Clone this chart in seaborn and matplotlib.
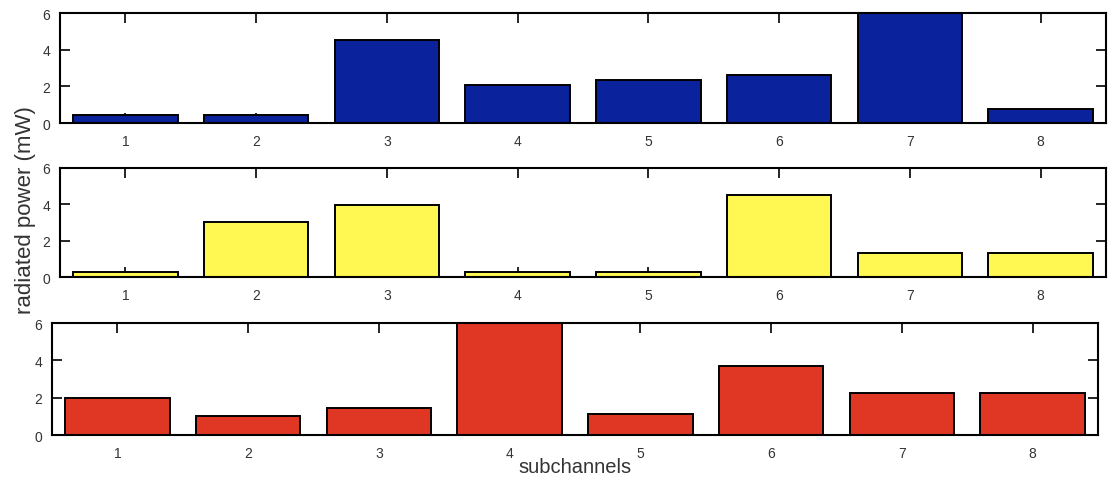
import matplotlib
matplotlib.use("Agg")
import matplotlib.pyplot as plt
import seaborn as sns
import pandas as pd

# radiated power per subchannel (mW) for three users
subchannels = ["1", "2", "3", "4", "5", "6", "7", "8"]
power_user1 = [0.45, 0.45, 4.53, 2.05, 2.36, 2.64, 6.3, 0.75]
power_user2 = [0.30, 3.05, 3.95, 0.30, 0.30, 4.50, 1.32, 1.32]
power_user3 = [2.00, 1.00, 1.43, 6.3, 1.13, 3.68, 2.25, 2.25]
y_ticks = [0, 2, 4, 6]

colors = ["#0a229c", "#fff852", "#e03724"]

sns.set_theme(style="white")
plt.rcParams["font.family"] = ["Liberation Sans", "DejaVu Sans"]

W, H = 1111, 481
fig = plt.figure(figsize=(W / 100, H / 100), dpi=100)

# axes boxes in pixels: left, top, right, bottom
boxes = [(60, 14, 1106, 124), (60, 169, 1106, 278), (52, 324, 1098, 436)]
series = [power_user1, power_user2, power_user3]

for (l, t, r, b), vals, col in zip(boxes, series, colors):
    ax = fig.add_axes([l / W, 1 - b / H, (r - l) / W, (b - t) / H])
    df = pd.DataFrame({"subchannel": subchannels, "power": vals})
    sns.barplot(data=df, x="subchannel", y="power", color=col, saturation=1,
                edgecolor="black", linewidth=1.4, width=0.8, ax=ax)
    ax.set_xlim(-0.5, len(subchannels) - 0.5)
    ax.set_ylim(0, 6)
    ax.set_yticks(y_ticks)
    ax.set_yticklabels([str(v) for v in y_ticks])
    ax.set_xlabel("")
    ax.set_ylabel("")
    ax.set_axisbelow(True)
    ax.tick_params(axis="both", direction="in", length=7, width=1.2,
                   color="black", labelsize=10, labelcolor="#333333",
                   top=True, right=True, bottom=True, left=True)
    ax.tick_params(axis="x", pad=8)
    ax.tick_params(axis="y", pad=7)
    for s in ax.spines.values():
        s.set_visible(True)
        s.set_color("black")
        s.set_linewidth(1.5)

fig.text(26 / W, 1 - 210 / H, "radiated power (mW)", rotation=90,
         ha="center", va="center", fontsize=16, color="#333333")
fig.text(575 / W, 1 - 468 / H, "subchannels", ha="center", va="center",
         fontsize=14.5, color="#333333")

fig.savefig("out.png", dpi=100)
